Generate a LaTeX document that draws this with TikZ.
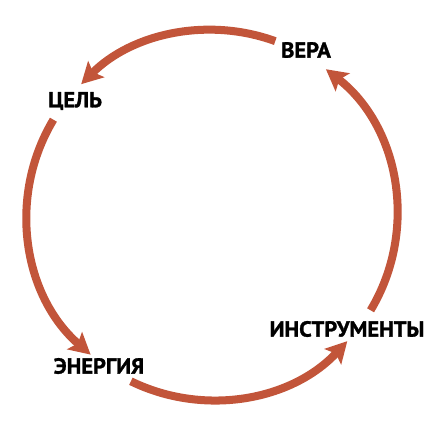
\documentclass[tikz,border=0pt]{standalone}
\usepackage{fontspec}
\setmainfont{PT Sans}[BoldFeatures={FakeBold=1.3}]
\usetikzlibrary{arrows.meta}

\definecolor{ciclo}{RGB}{194,85,58}

\tikzset{
  freccia/.style={draw=ciclo, line width=5.7pt,
    -{Stealth[length=15pt, width=16pt, inset=3pt]}},
  etichetta/.style={font=\fontsize{15.5}{15.5}\selectfont\bfseries, text=black, inner sep=0pt, xscale=1.03}
}

\begin{document}
\begin{tikzpicture}[x=0.025cm, y=0.025cm]
    \useasboundingbox (0,0) rectangle (437,437);

    % centro
    \coordinate (O) at (212,222);

    % etichette
    \node[etichetta] (vera) at (306,387) {ВЕРА};
    \node[etichetta] (cel) at (75,336) {ЦЕЛЬ};
    \node[etichetta] (energia) at (99,71) {ЭНЕРГИЯ};
    \node[etichetta] (instr) at (347,108) {ИНСТРУМЕНТЫ};

    % archi
    \draw[freccia] ([shift={(70:185)}]O) arc[start angle=70, end angle=135, radius=185];
    \draw[freccia] ([shift={(149:185)}]O) arc[start angle=149, end angle=229, radius=185];
    \draw[freccia] ([shift={(244:185)}]O) arc[start angle=244, end angle=317, radius=185];
    \draw[freccia] ([shift={(329:185)}]O) arc[start angle=329, end angle=412, radius=185];
\end{tikzpicture}
\end{document}
